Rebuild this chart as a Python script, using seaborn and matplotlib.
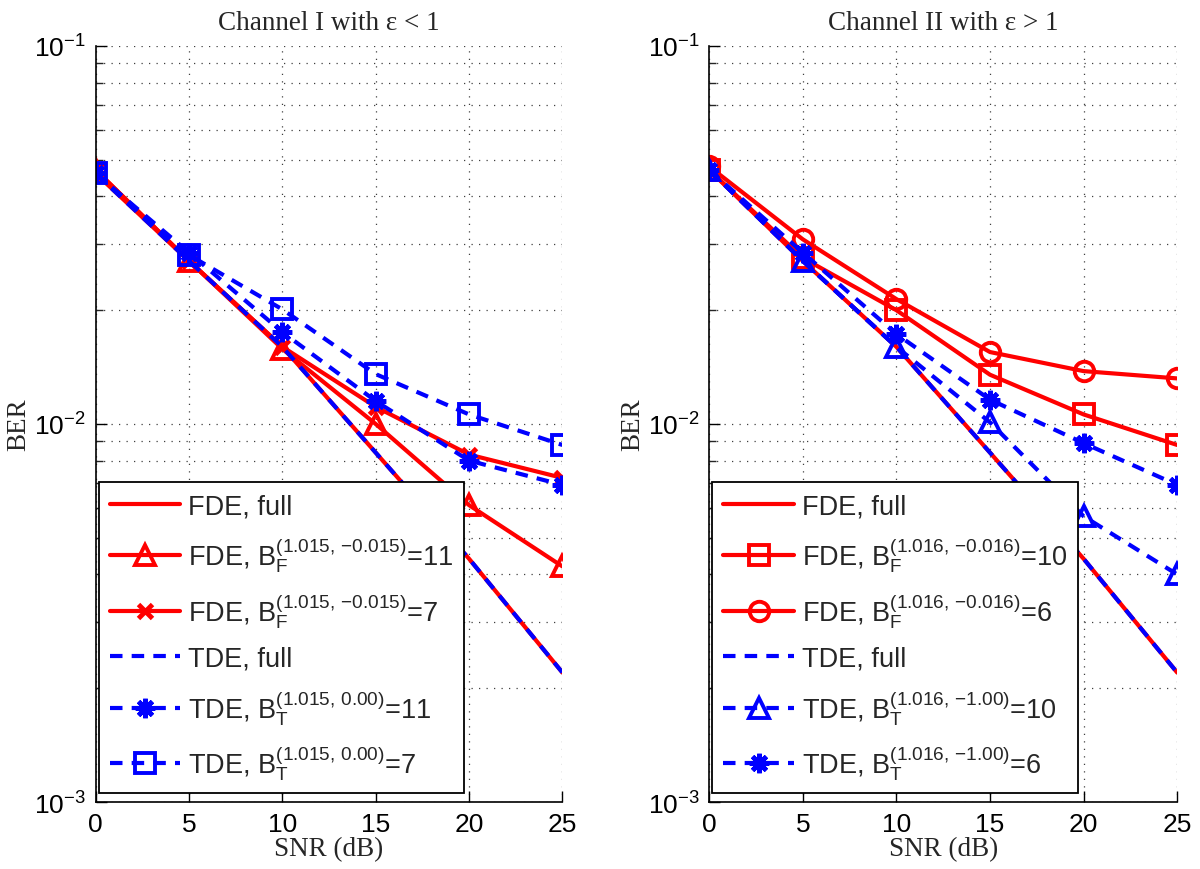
import numpy as np
import pandas as pd
import matplotlib
matplotlib.use("Agg")
import matplotlib.pyplot as plt
import seaborn as sns
from matplotlib.ticker import LogLocator, LogFormatterSciNotation, NullFormatter

# ---------------- data ----------------
snr = [0, 5, 10, 15, 20, 25]

# Channel I (eps < 1)
ch1_fde_full = [0.046, 0.027, 0.016, 0.0084, 0.0044, 0.0022]
ch1_fde_b11 = [0.047, 0.027, 0.0158, 0.0100, 0.0061, 0.0042]
ch1_fde_b7 = [0.047, 0.027, 0.0160, 0.0111, 0.0083, 0.0072]
ch1_tde_full = [0.046, 0.027, 0.016, 0.0084, 0.0044, 0.0022]
ch1_tde_b11 = [0.046, 0.0284, 0.0175, 0.0115, 0.0080, 0.0069]
ch1_tde_b7 = [0.046, 0.0280, 0.0201, 0.01355, 0.0106, 0.0088]

# Channel II (eps > 1)
ch2_fde_full = [0.047, 0.027, 0.016, 0.0084, 0.0044, 0.0022]
ch2_fde_b10 = [0.047, 0.0275, 0.0200, 0.0135, 0.0106, 0.0088]
ch2_fde_b6 = [0.048, 0.0308, 0.0214, 0.0155, 0.0138, 0.0132]
ch2_tde_full = [0.047, 0.027, 0.016, 0.0084, 0.0044, 0.0022]
ch2_tde_b10 = [0.047, 0.0270, 0.0160, 0.0101, 0.0057, 0.0040]
ch2_tde_b6 = [0.047, 0.0284, 0.0173, 0.0116, 0.0089, 0.0069]

titles = [r"Channel I with ε < 1", r"Channel II with ε > 1"]
xlabel = "SNR (dB)"
ylabel = "BER"

labels1 = [
    "FDE, full",
    r"FDE, B$_\mathrm{F}^\mathrm{(1.015,\,{-}0.015)}$=11",
    r"FDE, B$_\mathrm{F}^\mathrm{(1.015,\,{-}0.015)}$=7",
    "TDE, full",
    r"TDE, B$_\mathrm{T}^\mathrm{(1.015,\,0.00)}$=11",
    r"TDE, B$_\mathrm{T}^\mathrm{(1.015,\,0.00)}$=7",
]
labels2 = [
    "FDE, full",
    r"FDE, B$_\mathrm{F}^\mathrm{(1.016,\,{-}0.016)}$=10",
    r"FDE, B$_\mathrm{F}^\mathrm{(1.016,\,{-}0.016)}$=6",
    "TDE, full",
    r"TDE, B$_\mathrm{T}^\mathrm{(1.016,\,{-}1.00)}$=10",
    r"TDE, B$_\mathrm{T}^\mathrm{(1.016,\,{-}1.00)}$=6",
]

# ---------------- style ----------------
sns.set_theme(style="white")
plt.rcParams["font.family"] = ["Liberation Sans", "DejaVu Sans"]
plt.rcParams["mathtext.fontset"] = "custom"
plt.rcParams["mathtext.rm"] = "Liberation Sans"
plt.rcParams["mathtext.it"] = "Liberation Sans:italic"
plt.rcParams["mathtext.bf"] = "Liberation Sans:bold"

RED = "#ff0000"
BLUE = "#0000ff"
STAR = (8, 2, 0)

fig = plt.figure(figsize=(12, 8.7), dpi=100)
ax1 = fig.add_axes([0.0797, 0.077, 0.389, 0.869])
ax2 = fig.add_axes([0.591, 0.077, 0.390, 0.869])

DASH = (3.0, 2.2)


def draw(ax, series, styles, labels, title):
    handles = []
    for vals, st, lab in zip(series, styles, labels):
        color, marker, dashed = st
        kw = dict(color=color, linewidth=3.0, markersize=14,
                  markeredgewidth=2.8, markeredgecolor=color)
        if marker is None:
            kw["marker"] = None
        else:
            kw["marker"] = marker
            if marker == STAR:
                kw["markerfacecolor"] = color
                kw["markeredgewidth"] = 3.4
                kw["markersize"] = 14
            elif marker == "x":
                kw["markerfacecolor"] = color
                kw["markeredgewidth"] = 3.5
                kw["markersize"] = 10
            else:
                kw["markerfacecolor"] = "none"
        n_before = len(ax.lines)
        sns.lineplot(x=snr, y=vals, ax=ax, legend=False, **kw)
        ln = ax.lines[n_before]
        if dashed:
            ln.set_dashes(DASH)
        handles.append(ln)

    ax.set_yscale("log")
    ax.set_xlim(0, 25)
    ax.set_ylim(1e-3, 1e-1)
    ax.set_xticks(snr)
    ax.yaxis.set_major_locator(LogLocator(base=10, numticks=10))
    ax.yaxis.set_minor_locator(LogLocator(base=10, subs=np.arange(2, 10), numticks=20))
    ax.yaxis.set_major_formatter(LogFormatterSciNotation())
    ax.yaxis.set_minor_formatter(NullFormatter())
    ax.grid(True, which="major", axis="both", color="0.25",
            linestyle=(0, (1, 5)), linewidth=0.9)
    ax.grid(True, which="minor", axis="y", color="0.25",
            linestyle=(0, (1, 5)), linewidth=0.9)
    for s in ["top", "right"]:
        ax.spines[s].set_visible(False)
    for s in ["left", "bottom"]:
        ax.spines[s].set_color("black")
        ax.spines[s].set_linewidth(1.2)
    ax.tick_params(axis="both", which="major", direction="in", length=8,
                   width=1.0, labelsize=19, colors="black", pad=7)
    ax.tick_params(axis="y", which="minor", direction="in", length=5,
                   width=1.0, left=True)
    ax.tick_params(axis="y", which="major", left=True)
    ax.tick_params(axis="x", which="major", bottom=True)

    ax.set_title(title, fontfamily="Liberation Serif", fontsize=19.5, pad=12)
    ax.set_xlabel(xlabel, fontfamily="Liberation Serif", fontsize=19.5, labelpad=0)
    ax.set_ylabel(ylabel, fontfamily="Liberation Serif", fontsize=19.5, labelpad=2)

    leg = ax.legend(handles, labels, loc="lower left",
                    bbox_to_anchor=(0.007, 0.012), fontsize=19.5,
                    handlelength=2.6, handletextpad=0.3, labelspacing=0.6,
                    borderpad=0.4, borderaxespad=0.0, fancybox=False,
                    framealpha=1.0, edgecolor="black")
    leg.get_frame().set_linewidth(1.3)
    return ax


styles1 = [(RED, None, False), (RED, "^", False), (RED, "x", False),
           (BLUE, None, True), (BLUE, STAR, True), (BLUE, "s", True)]
styles2 = [(RED, None, False), (RED, "s", False), (RED, "o", False),
           (BLUE, None, True), (BLUE, "^", True), (BLUE, STAR, True)]

draw(ax1, [ch1_fde_full, ch1_fde_b11, ch1_fde_b7, ch1_tde_full, ch1_tde_b11, ch1_tde_b7],
     styles1, labels1, titles[0])
draw(ax2, [ch2_fde_full, ch2_fde_b10, ch2_fde_b6, ch2_tde_full, ch2_tde_b10, ch2_tde_b6],
     styles2, labels2, titles[1])

fig.savefig("out.png", dpi=100, facecolor="white")
